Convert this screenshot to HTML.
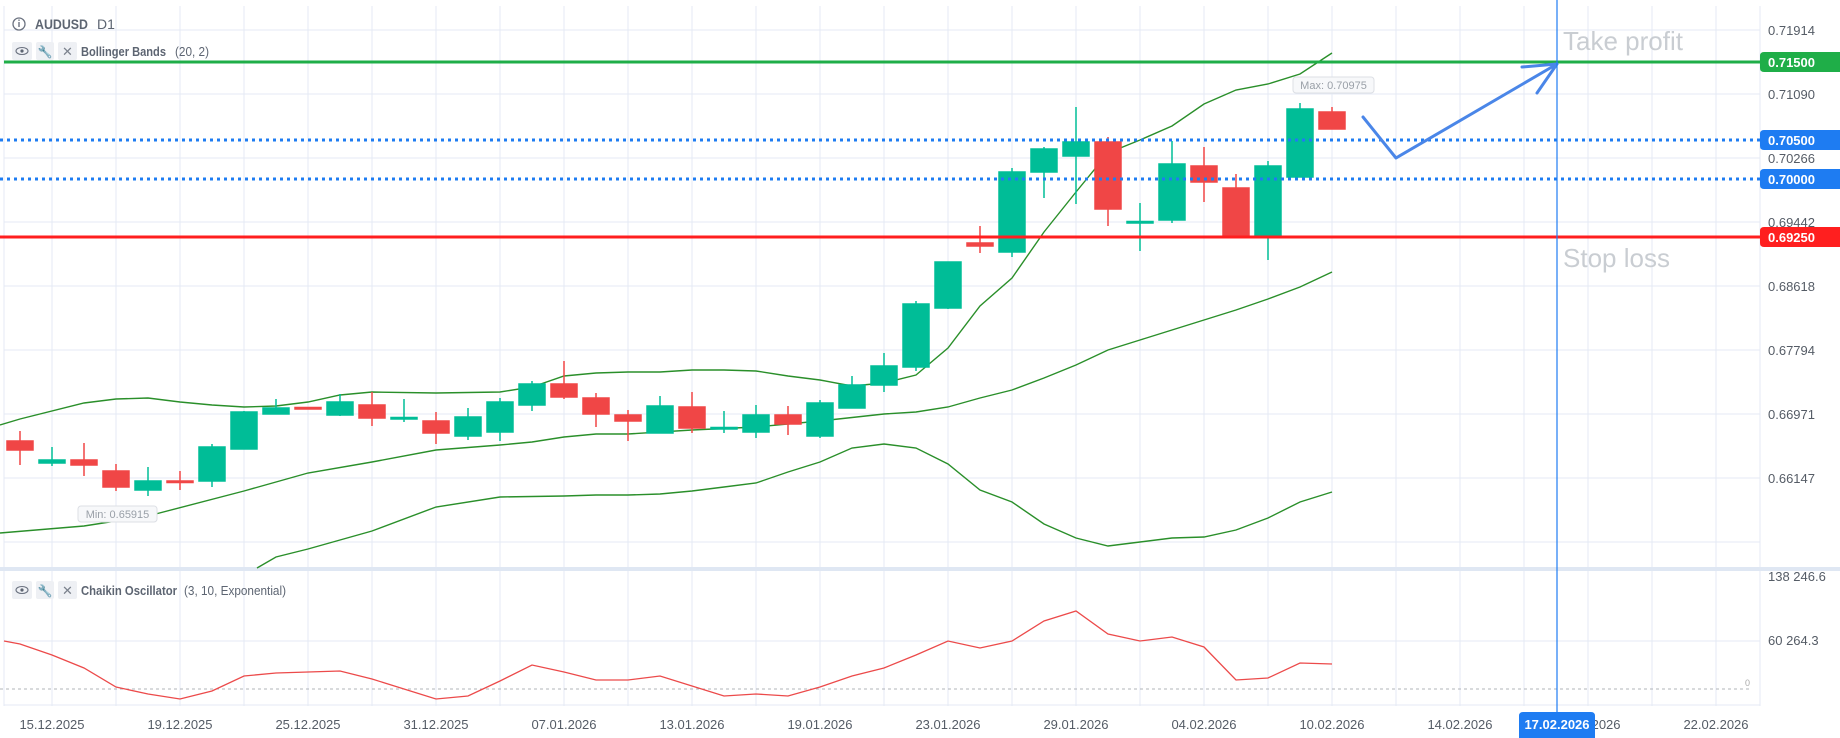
<!DOCTYPE html>
<html><head><meta charset="utf-8"><style>
html,body{margin:0;padding:0;background:#fff;}
svg{display:block;font-family:"Liberation Sans",sans-serif;}
</style></head><body>
<svg width="1840" height="738" viewBox="0 0 1840 738" xmlns="http://www.w3.org/2000/svg">
<rect width="1840" height="738" fill="#fff"/>
<g stroke="#e4eaf4" stroke-width="1">
<path d="M4 6V706M52 6V706M116 6V706M180 6V706M244 6V706M308 6V706M372 6V706M436 6V706M500 6V706M564 6V706M628 6V706M692 6V706M756 6V706M820 6V706M884 6V706M948 6V706M1012 6V706M1076 6V706M1140 6V706M1204 6V706M1268 6V706M1332 6V706M1396 6V706M1460 6V706M1524 6V706M1588 6V706M1652 6V706M1716 6V706M1760 6V706"/>
<path d="M4 30H1760M4 94H1760M4 158H1760M4 222H1760M4 286H1760M4 350H1760M4 414H1760M4 478H1760M4 542H1760M4 641H1760M4 705H1760"/>
</g>
<rect x="0" y="567" width="1840" height="4" fill="#dfe7f3"/>
<line x1="0" y1="689" x2="1750" y2="689" stroke="#b0b4ba" stroke-width="1" stroke-dasharray="3 3"/>
<text x="1745" y="686" font-size="9" fill="#aaa">0</text>

<g fill="none" stroke="#2a8f2a" stroke-width="1.4">
<polyline points="0,425 20,419 84,403 116,399 148,398 180,402 212,405 244,407 276,406 308,402 340,395 372,392 436,393 500,392 532,387 564,376 596,373 628,372 660,372 692,370 724,370 756,371 788,376 820,380 852,386 884,383 916,375 948,348 980,306 1012,278 1044,232 1076,192 1108,153 1140,140 1172,126 1204,104 1236,90 1268,84 1300,74 1332,53"/>
<polyline points="0,533 84,526 148,516 244,491 308,473 372,462 436,450 500,445 532,442 564,437 596,434 628,434 692,430 756,427 820,421 884,414 916,412 948,407 980,398 1012,390 1044,378 1076,365 1108,350 1140,340 1172,330 1204,320 1236,310 1268,299 1300,287 1332,272"/>
<polyline points="257,568 276,557 308,549 372,531 436,507 500,497 564,496 596,495 628,495 660,494 692,491 724,487 756,483 788,472 820,462 852,448 884,444 916,448 948,464 980,490 1012,502 1044,524 1076,538 1108,546 1140,542 1172,538 1204,537 1236,530 1268,518 1300,502 1332,492"/>
</g>

<g stroke-width="1.5">
<g stroke="#f04646" fill="#f04646">
<line x1="20" y1="431" x2="20" y2="465"/><rect x="7" y="441" width="26" height="9"/>
<line x1="84" y1="443" x2="84" y2="476"/><rect x="71" y="460" width="26" height="5"/>
<line x1="116" y1="464" x2="116" y2="491"/><rect x="103" y="471" width="26" height="16"/>
<line x1="180" y1="471" x2="180" y2="490"/><rect x="167" y="481" width="26" height="1.5"/>
<line x1="308" y1="407" x2="308" y2="409"/><rect x="295" y="407.5" width="26" height="1.5"/>
<line x1="372" y1="392" x2="372" y2="426"/><rect x="359" y="405" width="26" height="13"/>
<line x1="436" y1="412" x2="436" y2="444"/><rect x="423" y="421" width="26" height="12"/>
<line x1="564" y1="361" x2="564" y2="399"/><rect x="551" y="384" width="26" height="13"/>
<line x1="596" y1="393" x2="596" y2="427"/><rect x="583" y="398" width="26" height="16"/>
<line x1="628" y1="410" x2="628" y2="441"/><rect x="615" y="415" width="26" height="6"/>
<line x1="692" y1="392" x2="692" y2="433"/><rect x="679" y="407" width="26" height="21"/>
<line x1="788" y1="406" x2="788" y2="435"/><rect x="775" y="415" width="26" height="9"/>
<line x1="980" y1="226" x2="980" y2="253"/><rect x="967" y="243" width="26" height="3"/>
<line x1="1108" y1="137" x2="1108" y2="226"/><rect x="1095" y="142" width="26" height="67"/>
<line x1="1204" y1="147" x2="1204" y2="202"/><rect x="1191" y="166" width="26" height="16"/>
<line x1="1236" y1="174" x2="1236" y2="237"/><rect x="1223" y="188" width="26" height="49"/>
<line x1="1332" y1="107" x2="1332" y2="129"/><rect x="1319" y="112" width="26" height="17"/>
</g>
<g stroke="#00bd97" fill="#00bd97">
<line x1="52" y1="447" x2="52" y2="466"/><rect x="39" y="460" width="26" height="3"/>
<line x1="148" y1="467" x2="148" y2="496"/><rect x="135" y="481" width="26" height="9"/>
<line x1="212" y1="444" x2="212" y2="487"/><rect x="199" y="447" width="26" height="34"/>
<line x1="244" y1="411" x2="244" y2="449"/><rect x="231" y="412" width="26" height="37"/>
<line x1="276" y1="399" x2="276" y2="414"/><rect x="263" y="408" width="26" height="6"/>
<line x1="340" y1="394" x2="340" y2="416"/><rect x="327" y="402" width="26" height="13"/>
<line x1="404" y1="399" x2="404" y2="422"/><rect x="391" y="417.5" width="26" height="1.5"/>
<line x1="468" y1="408" x2="468" y2="440"/><rect x="455" y="417" width="26" height="19"/>
<line x1="500" y1="398" x2="500" y2="441"/><rect x="487" y="402" width="26" height="30"/>
<line x1="532" y1="381" x2="532" y2="411"/><rect x="519" y="384" width="26" height="21"/>
<line x1="660" y1="396" x2="660" y2="433"/><rect x="647" y="406" width="26" height="27"/>
<line x1="724" y1="411" x2="724" y2="433"/><rect x="711" y="427.5" width="26" height="1.5"/>
<line x1="756" y1="405" x2="756" y2="438"/><rect x="743" y="415" width="26" height="17"/>
<line x1="820" y1="400" x2="820" y2="438"/><rect x="807" y="403" width="26" height="33"/>
<line x1="852" y1="376" x2="852" y2="408"/><rect x="839" y="385" width="26" height="23"/>
<line x1="884" y1="353" x2="884" y2="392"/><rect x="871" y="366" width="26" height="19"/>
<line x1="916" y1="301" x2="916" y2="371"/><rect x="903" y="304" width="26" height="63"/>
<line x1="948" y1="262" x2="948" y2="309"/><rect x="935" y="262" width="26" height="46"/>
<line x1="1012" y1="168" x2="1012" y2="257"/><rect x="999" y="172" width="26" height="80"/>
<line x1="1044" y1="147" x2="1044" y2="198"/><rect x="1031" y="149" width="26" height="23"/>
<line x1="1076" y1="107" x2="1076" y2="204"/><rect x="1063" y="142" width="26" height="14"/>
<line x1="1140" y1="203" x2="1140" y2="251"/><rect x="1127" y="221.5" width="26" height="1.5"/>
<line x1="1172" y1="141" x2="1172" y2="223"/><rect x="1159" y="164" width="26" height="56"/>
<line x1="1268" y1="161" x2="1268" y2="260"/><rect x="1255" y="166" width="26" height="71"/>
<line x1="1300" y1="103" x2="1300" y2="177"/><rect x="1287" y="109" width="26" height="68"/>
</g>
</g>

<line x1="4" y1="62" x2="1760" y2="62" stroke="#1fae48" stroke-width="3"/>
<line x1="0" y1="140" x2="1760" y2="140" stroke="#1e7cf2" stroke-width="3" stroke-dasharray="3 4"/>
<line x1="0" y1="179" x2="1760" y2="179" stroke="#1e7cf2" stroke-width="3" stroke-dasharray="3 4"/>
<line x1="0" y1="237" x2="1760" y2="237" stroke="#ff1f1f" stroke-width="3"/>

<text x="1563" y="50" font-size="26" fill="#c9cdd2">Take profit</text>
<text x="1563" y="267" font-size="26" fill="#c9cdd2">Stop loss</text>

<g fill="none" stroke="#4a86e8" stroke-width="3" stroke-linecap="round" stroke-linejoin="round">
<polyline points="1363,117 1396,158 1557,64"/>
<polyline points="1522,67 1557,64 1537,93"/>
</g>

<line x1="1557" y1="0" x2="1557" y2="715" stroke="#1e7cf2" stroke-width="1.2"/>

<g font-size="11" fill="#9aa0a8">
<rect x="1293" y="77" width="81" height="16" rx="3" fill="#f7f8fa" stroke="#dcdfe4"/>
<text x="1333.5" y="89" text-anchor="middle">Max: 0.70975</text>
<rect x="78" y="506" width="79" height="16" rx="3" fill="#f7f8fa" stroke="#dcdfe4"/>
<text x="117.5" y="518" text-anchor="middle">Min: 0.65915</text>
</g>

<polyline fill="none" stroke="#ec4a4a" stroke-width="1.3" points="4,641 20,644 52,655 84,668 116,687 148,694 180,699 212,691 244,676 276,673 308,672 340,671 372,679 404,689 436,699 468,696 500,681 532,665 564,672 596,680 628,680 660,676 692,686 724,696 756,694 788,696 820,687 852,676 884,668 916,655 948,641 980,648 1012,641 1044,621 1076,611 1108,634 1140,641 1172,637 1204,647 1236,680 1268,678 1300,663 1332,664"/>

<g fill="#5d6572">
<circle cx="19" cy="24" r="6" fill="none" stroke="#6b7280" stroke-width="1.3"/>
<rect x="18.3" y="22" width="1.4" height="5" fill="#6b7280"/><rect x="18.3" y="19.5" width="1.4" height="1.4" fill="#6b7280"/>
<text x="35" y="29" font-size="14" font-weight="bold" textLength="53" lengthAdjust="spacingAndGlyphs">AUDUSD</text>
<text x="97" y="29" font-size="14">D1</text>
<rect x="12" y="42" width="20" height="18" rx="2" fill="#eef0f4"/>
<rect x="36" y="42" width="18" height="18" rx="2" fill="#eef0f4"/>
<rect x="58" y="42" width="19" height="18" rx="2" fill="#eef0f4"/>
<ellipse cx="22" cy="51" rx="6" ry="3.5" fill="none" stroke="#6b7280" stroke-width="1.1"/><circle cx="22" cy="51" r="1.6"/>
<text x="45" y="56" font-size="12" text-anchor="middle">🔧</text>
<text x="67.5" y="56" font-size="13" text-anchor="middle" fill="#7a818c">✕</text>
<text x="81" y="56" font-size="13" font-weight="bold" textLength="85" lengthAdjust="spacingAndGlyphs">Bollinger Bands</text>
<text x="175" y="56" font-size="13" textLength="34" lengthAdjust="spacingAndGlyphs">(20, 2)</text>

<rect x="12" y="581" width="20" height="18" rx="2" fill="#eef0f4"/>
<rect x="36" y="581" width="18" height="18" rx="2" fill="#eef0f4"/>
<rect x="58" y="581" width="19" height="18" rx="2" fill="#eef0f4"/>
<ellipse cx="22" cy="590" rx="6" ry="3.5" fill="none" stroke="#6b7280" stroke-width="1.1"/><circle cx="22" cy="590" r="1.6"/>
<text x="45" y="595" font-size="12" text-anchor="middle">🔧</text>
<text x="67.5" y="595" font-size="13" text-anchor="middle" fill="#7a818c">✕</text>
<text x="81" y="595" font-size="13" font-weight="bold" textLength="96" lengthAdjust="spacingAndGlyphs">Chaikin Oscillator</text>
<text x="184" y="595" font-size="13" textLength="102" lengthAdjust="spacingAndGlyphs">(3, 10, Exponential)</text>
</g>

<g font-size="13" fill="#555c66">
<text x="1768" y="35">0.71914</text>
<text x="1768" y="99">0.71090</text>
<text x="1768" y="163">0.70266</text>
<text x="1768" y="227">0.69442</text>
<text x="1768" y="291">0.68618</text>
<text x="1768" y="355">0.67794</text>
<text x="1768" y="419">0.66971</text>
<text x="1768" y="483">0.66147</text>
<text x="1768" y="581">138 246.6</text>
<text x="1768" y="645">60 264.3</text>
</g>
<g font-size="13" font-weight="bold" fill="#fff">
<path d="M1764 52H1840V72H1764Q1760 72 1760 68V56Q1760 52 1764 52Z" fill="#1fae48"/>
<text x="1768" y="67">0.71500</text>
<path d="M1764 130H1840V150H1764Q1760 150 1760 146V134Q1760 130 1764 130Z" fill="#1e7cf2"/>
<text x="1768" y="145">0.70500</text>
<path d="M1764 169H1840V189H1764Q1760 189 1760 185V173Q1760 169 1764 169Z" fill="#1e7cf2"/>
<text x="1768" y="184">0.70000</text>
<path d="M1764 227H1840V247H1764Q1760 247 1760 243V231Q1760 227 1764 227Z" fill="#ff1f1f"/>
<text x="1768" y="242">0.69250</text>
</g>

<g font-size="13" fill="#555c66" text-anchor="middle">
<text x="52" y="729">15.12.2025</text>
<text x="180" y="729">19.12.2025</text>
<text x="308" y="729">25.12.2025</text>
<text x="436" y="729">31.12.2025</text>
<text x="564" y="729">07.01.2026</text>
<text x="692" y="729">13.01.2026</text>
<text x="820" y="729">19.01.2026</text>
<text x="948" y="729">23.01.2026</text>
<text x="1076" y="729">29.01.2026</text>
<text x="1204" y="729">04.02.2026</text>
<text x="1332" y="729">10.02.2026</text>
<text x="1460" y="729">14.02.2026</text>
<text x="1588" y="729">18.02.2026</text>
<text x="1716" y="729">22.02.2026</text>
</g>
<path d="M1523 712H1591Q1595 712 1595 716V738H1519V716Q1519 712 1523 712Z" fill="#1e7cf2"/>
<text x="1557" y="729" font-size="13" font-weight="bold" fill="#fff" text-anchor="middle">17.02.2026</text>
</svg>
</body></html>
